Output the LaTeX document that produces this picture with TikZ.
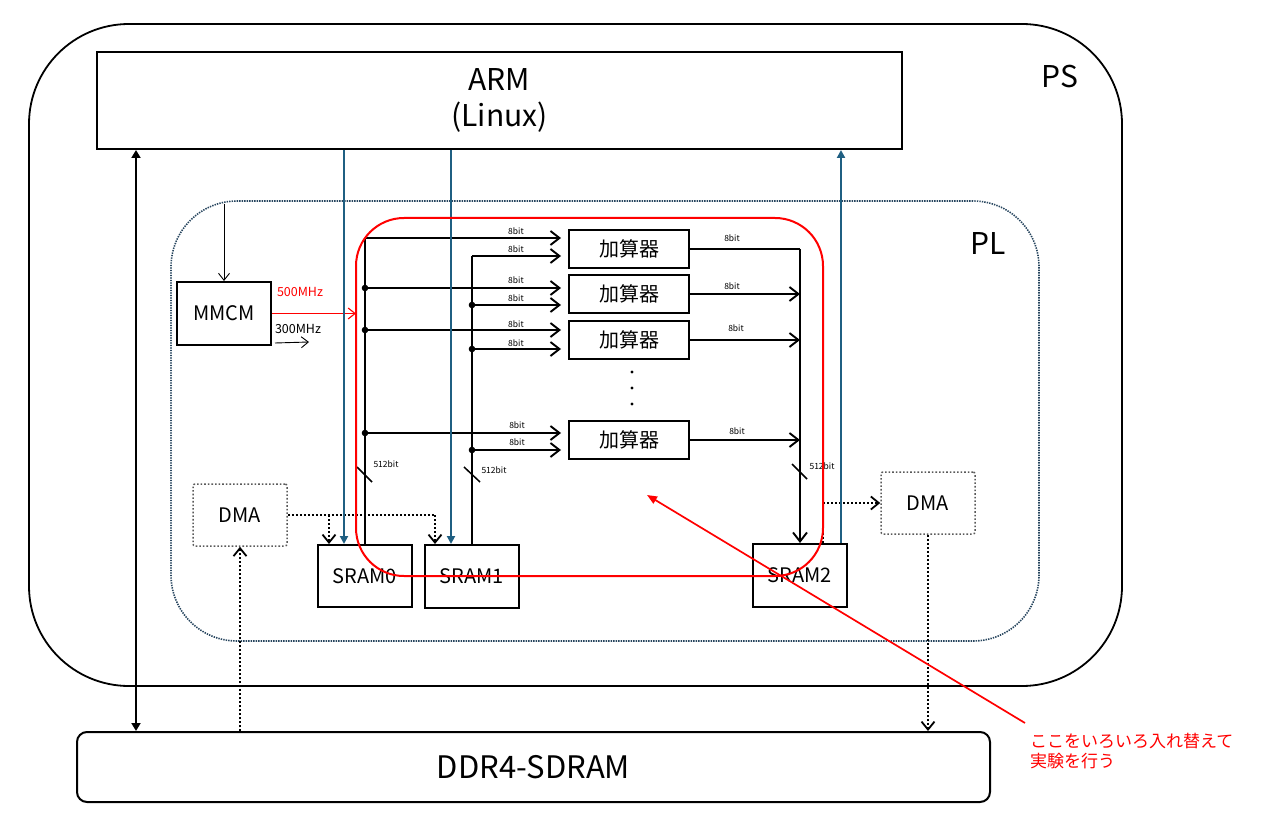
\documentclass[tikz,border=0pt]{standalone}
\usepackage{fontspec}
\setmainfont{Noto Sans CJK JP}
\usetikzlibrary{arrows.meta,calc}
\definecolor{armblue}{RGB}{31,95,130}
\definecolor{pldot}{RGB}{40,70,95}
\definecolor{dmagrey}{RGB}{90,90,90}
\begin{document}
\begin{tikzpicture}[x=1pt,y=-1pt,
  box/.style={draw,line width=2pt,inner sep=0pt,font=\fontsize{20}{22}\selectfont},
  adder/.style={box,minimum width=120pt,minimum height=38pt},
  sram/.style={box,minimum width=94pt,minimum height=62pt},
  dmabox/.style={draw=dmagrey,line width=1.5pt,dash pattern=on 1.6pt off 2pt,rounded corners=2pt,
    minimum width=94pt,minimum height=62pt,inner sep=0pt,font=\fontsize{20}{22}\selectfont},
  bus/.style={line width=1.9pt},
  barb/.style={-{Straight Barb[length=9pt,width=14pt]}},
  bitlbl/.style={font=\fontsize{8.5}{9}\selectfont,inner sep=0pt},
  bluearrow/.style={draw=armblue,line width=2pt,-{Triangle[length=8pt,width=8pt]}},
  dotline/.style={line width=1.8pt,dash pattern=on 2pt off 2pt},
  dotarrow/.style={dotline,-{Straight Barb[length=8pt,width=13pt]}},
  big/.style={font=\fontsize{30}{36}\selectfont}
]
\useasboundingbox (0,0) rectangle (1266,818);

% containers
\node[draw,line width=1.8pt,rounded corners=100pt,minimum width=1093pt,minimum height=662pt] (ps) at (575.5,355) {};
\node[draw=pldot,line width=1.6pt,dash pattern=on 1.4pt off 1.1pt,rounded corners=66pt,minimum width=868pt,minimum height=440pt] (pl) at (605,421) {};
\node[big,inner sep=0pt] (pslbl) at (1060,77) {PS};
\node[big,inner sep=0pt] (pllbl) at (988,244) {PL};

% main boxes
\node[box,big,align=center,minimum width=805pt,minimum height=97pt] (arm) at (499.5,100.5) {ARM\\(Linux)};
\node[box,font=\fontsize{31}{36}\selectfont,rounded corners=10pt,minimum width=913pt,minimum height=70pt] (ddr) at (533.5,767) {DDR4-SDRAM};
\node[box,minimum width=94pt,minimum height=63pt] (mmcm) at (224,313.5) {MMCM};
\node[dmabox] (dmaL) at (240,515) {DMA};
\node[dmabox] (dmaR) at (928,503) {DMA};
\node[sram] (sram0) at (365,576) {SRAM0};
\node[sram,minimum height=63pt] (sram1) at (472,576.5) {SRAM1};
\node[sram,minimum height=63pt] (sram2) at (800,575.5) {SRAM2};
\node[adder] (add1) at (629,249) {加算器};
\node[adder] (add2) at (629,294) {加算器};
\node[adder] (add3) at (629,340) {加算器};
\node[adder] (add4) at (629,440) {加算器};

% coordinates
\coordinate (xL) at (136,0);
\coordinate (xb0) at (344,0);
\coordinate (xb1) at (451,0);
\coordinate (xb2) at (841,0);
\coordinate (s0t) at (365,238);
\coordinate (s0b) at (365,288);
\coordinate (s0c) at (365,330);
\coordinate (s0d) at (365,433);
\coordinate (s1t) at (472,256);
\coordinate (s1b) at (472,305);
\coordinate (s1c) at (472,349);
\coordinate (s1d) at (472,450);
\coordinate (o1) at (800,249);
\coordinate (j1) at (329,515);
\coordinate (j2) at (435,515);
\coordinate (j3) at (823,503);
\coordinate (f300) at (309,342);
\coordinate (tip) at (647,495);

% DDR <-> ARM
\draw[line width=1.9pt,{Triangle[length=8pt,width=9pt]}-{Triangle[length=8pt,width=9pt]}] (arm.south -| xL) -- (ddr.north -| xL);

% clocks
\draw[line width=0.9pt,-{Straight Barb[length=7pt,width=11pt]}] ($(mmcm.north)+(0,-77)$) -- (mmcm.north);
\draw[red,line width=1.1pt,-{Straight Barb[length=7pt,width=11pt]}] (mmcm.east) -- (mmcm.east -| 356,0);
\node[red,font=\fontsize{12.5}{14}\selectfont,inner sep=0pt] (l500) at (300,292) {500MHz};
\node[font=\fontsize{12.5}{14}\selectfont,inner sep=0pt] (l300) at (298,329) {300MHz};
\draw[line width=0.9pt,-{Straight Barb[length=7pt,width=11pt]}] ($(mmcm.south east)+(3,-3)$) -- (f300);

% buses from SRAM0 / SRAM1
\draw[bus] (sram0.north) -- (s0t);
\draw[bus] (sram1.north) -- (s1t);
\foreach \c in {s0t,s0b,s0c,s0d,s1t,s1b,s1c,s1d}{
  \draw[bus,barb,shorten >=7pt] (\c) -- (\c -| add1.west);
}
\foreach \c in {s0b,s0c,s0d,s1b,s1c,s1d}{ \fill (\c) circle (3.3pt); }

% input labels
\foreach \x/\y in {516/231,516/249,516/280,516/298,516/324,516/343,517/425,517/442}{
  \node[bitlbl] at (\x,\y) {8bit};
}

% outputs
\draw[bus] (add1.east) -- (o1);
\draw[bus,barb] (o1) -- (sram2.north);
\draw[bus,barb] (add2.east) -- (add2.east -| o1);
\draw[bus,barb] (add3.east) -- (add3.east -| o1);
\draw[bus,barb] (add4.east) -- (add4.east -| o1);
\node[bitlbl] at (732,238) {8bit};
\node[bitlbl] at (732,286) {8bit};
\node[bitlbl] at (736,328) {8bit};
\node[bitlbl] at (737,431) {8bit};

% ellipsis
\foreach \y in {372,388,404}{ \fill (632,\y) circle (1.6pt); }

% 512bit slashes
\draw[line width=1.5pt] (357,467) -- (372,482);
\node[bitlbl] at (386,464) {512bit};
\draw[line width=1.5pt] (464,467) -- (480,482);
\node[bitlbl] at (494,470) {512bit};
\draw[line width=1.5pt] (792,464) -- (807,479);
\node[bitlbl] at (822,466) {512bit};

% DMA paths
\draw[dotline] (dmaL.east) -- (j2);
\draw[dotarrow] (j1) -- (j1 |- sram0.north);
\draw[dotarrow] (j2) -- (j2 |- sram1.north);
\draw[dotarrow] (dmaL.south |- ddr.north) -- (dmaL.south);
\draw[dotline] (j3 |- sram2.north) -- (j3);
\draw[dotarrow] (j3) -- (dmaR.west);
\draw[dotarrow] (dmaR.south) -- (dmaR.south |- ddr.north);

% ARM blue links
\draw[bluearrow] (arm.south -| xb0) -- (sram0.north -| xb0);
\draw[bluearrow] (arm.south -| xb1) -- (sram1.north -| xb1);
\draw[bluearrow] (sram2.north -| xb2) -- (arm.south -| xb2);

% experiment region
\node[draw=red,line width=2pt,rounded corners=48pt,minimum width=467pt,minimum height=358pt] (exp) at (589.5,397) {};
\node[red,font=\fontsize{17}{20}\selectfont,align=left,anchor=north west,inner sep=2pt] (note) at (1028,731) {ここをいろいろ入れ替えて\\実験を行う};
\draw[red,line width=1.7pt,-{Triangle[length=10pt,width=8pt]}] ($(note.north west)+(-3,-8)$) -- (tip);
\end{tikzpicture}
\end{document}
